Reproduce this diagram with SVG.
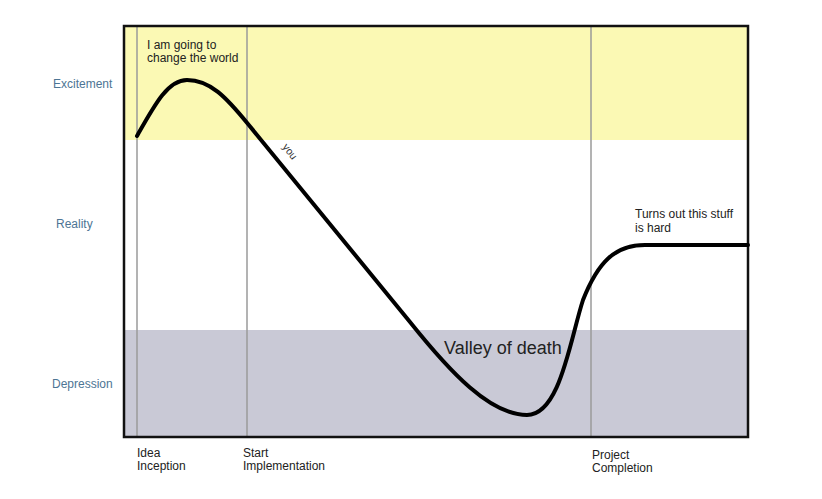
<svg xmlns="http://www.w3.org/2000/svg" width="822" height="499" viewBox="0 0 822 499">
<style>
.axis{font-family:"Liberation Sans",Arial,sans-serif;font-size:12px;fill:#4d7594}
.lbl{font-family:"Liberation Sans",Arial,sans-serif;font-size:12px;fill:#222}
.big{font-family:"Liberation Sans",Arial,sans-serif;font-size:18px;fill:#222}
.vline{stroke:#9a9a9a;stroke-width:1.5;fill:none}
</style>
<rect width="822" height="499" fill="#ffffff"/>
<g id="bands">
<rect x="124" y="26" width="624" height="114" fill="#fbf9b4"/>
<rect x="124" y="330" width="624" height="107" fill="#c9c9d6"/>
</g>
<g id="milestones">
<line class="vline" x1="137" y1="26" x2="137" y2="437"/>
<line class="vline" x1="247" y1="26" x2="247" y2="437"/>
<line class="vline" x1="591" y1="26" x2="591" y2="437"/>
</g>
<g id="frame">
<rect x="124" y="26" width="624" height="411" fill="none" stroke="#111" stroke-width="2.5"/>
</g>
<g id="connectors">
<path d="M137,136 C155,104 168,80 187,80 C210,80 226,97 248,124 L410,322 C450,372 490,415 527,415 C560,415 570,340 583,300 C598,262 615,245 645,245 L748,245" fill="none" stroke="#000" stroke-width="4" stroke-linecap="round" stroke-linejoin="round"/>
</g>
<g id="axis-labels">
<text class="axis" x="53" y="88">Excitement</text>
<text class="axis" x="56" y="228">Reality</text>
<text class="axis" x="52" y="388">Depression</text>
</g>
<g id="annotations">
<text class="lbl" x="147" y="49">I am going to</text>
<text class="lbl" x="147" y="62">change the world</text>
<text class="lbl" x="282" y="147" transform="rotate(52 282 147)" style="font-size:10.5px;fill:#333">you</text>
<text class="big" x="444" y="354">Valley of death</text>
<text class="lbl" x="635" y="218">Turns out this stuff</text>
<text class="lbl" x="635" y="232">is hard</text>
</g>
<g id="milestone-labels">
<text class="lbl" x="137" y="457">Idea</text>
<text class="lbl" x="137" y="470">Inception</text>
<text class="lbl" x="243" y="457">Start</text>
<text class="lbl" x="243" y="470">Implementation</text>
<text class="lbl" x="592" y="459">Project</text>
<text class="lbl" x="592" y="472">Completion</text>
</g>
</svg>
